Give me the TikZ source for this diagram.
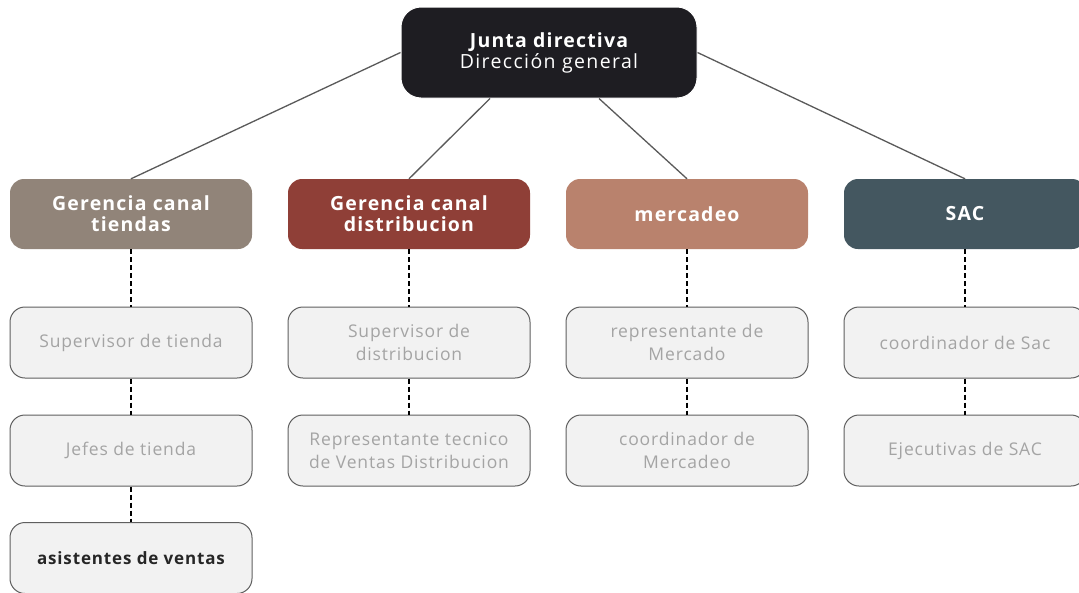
\documentclass[tikz,border=0pt]{standalone}
\usepackage{fontspec}
\setmainfont{Open Sans}
\newfontfamily\trackedfont[LetterSpace=5]{Open Sans}
\newfontfamily\titlefont[LetterSpace=6]{Open Sans}
\newfontfamily\subtitlefont[LetterSpace=7]{Open Sans}
\usetikzlibrary{calc}
\definecolor{topfill}{HTML}{1E1D22}
\definecolor{gA}{HTML}{918479}
\definecolor{gB}{HTML}{8F3F37}
\definecolor{gC}{HTML}{B9826D}
\definecolor{gD}{HTML}{445760}
\definecolor{lightfill}{HTML}{F2F2F2}
\definecolor{lightline}{HTML}{5F5F5F}
\definecolor{lighttext}{HTML}{A4A4A4}
\definecolor{conn}{HTML}{5A5A5A}
\tikzset{
  topbox/.style={draw=white, line width=1pt, fill=topfill, rounded corners=20pt, minimum width=296pt, minimum height=91pt, align=center, text=white, inner sep=0pt},
  mgrbox/.style={rounded corners=14pt, minimum width=242pt, minimum height=70pt, align=center, text=white, font=\titlefont\fontsize{19.5}{21}\selectfont\bfseries, inner sep=0pt},
  subbox/.style={draw=lightline, line width=1pt, fill=lightfill, rounded corners=15pt, minimum width=242pt, minimum height=71pt, align=center, text=lighttext, font=\trackedfont\fontsize{17.5}{23}\selectfont, inner sep=0pt},
  solidconn/.style={draw=conn, line width=1.3pt},
  dashconn/.style={draw=black, line width=1.6pt, dash pattern=on 5pt off 3pt},
}
\begin{document}
\begin{tikzpicture}[x=1pt,y=-1pt]
\useasboundingbox (0,0) rectangle (1079,592);
\clip (0,0) rectangle (1079,592);
\fill[white] (0,0) rectangle (1079,592);
% top
\node[topbox] (top) at (549,52.5) {{\titlefont\fontsize{19.5}{22}\selectfont\bfseries Junta directiva}\\[1pt]{\subtitlefont\fontsize{19.5}{22}\selectfont Dirección general}};
% level 2
\node[mgrbox, fill=gA] (g1) at (131,214) {Gerencia canal\\tiendas};
\node[mgrbox, fill=gB] (g2) at (409,214) {Gerencia canal\\distribucion};
\node[mgrbox, fill=gC] (g3) at (687,214) {mercadeo};
\node[mgrbox, fill=gD] (g4) at (965,214) {SAC};
% level 3
\node[subbox] (a1) at (131,342.5) {Supervisor de tienda};
\node[subbox] (b1) at (409,342.5) {Supervisor de\\distribucion};
\node[subbox] (c1) at (687,342.5) {representante de\\Mercado};
\node[subbox] (d1) at (965,342.5) {coordinador de Sac};
% level 4
\node[subbox] (a2) at (131,450.5) {Jefes de tienda};
\node[subbox] (b2) at (409,450.5) {Representante tecnico\\de Ventas Distribucion};
\node[subbox] (c2) at (687,450.5) {coordinador de\\Mercadeo};
\node[subbox] (d2) at (965,450.5) {Ejecutivas de SAC};
% level 5
\node[subbox, text=black!85, font=\trackedfont\fontsize{17}{22}\selectfont\bfseries] (a3) at (131,558) {asistentes de ventas};
% connectors from top
\coordinate (tl) at ($(top.south)+(-59,0)$);
\coordinate (tr) at ($(top.south)+(50,0)$);
\draw[solidconn] (top.west) -- (g1.north);
\draw[solidconn] (tl) -- (g2.north);
\draw[solidconn] (tr) -- (g3.north);
\draw[solidconn] (top.east) -- (g4.north);
% dashed
\draw[dashconn] (g1.south) -- (a1.north);
\draw[dashconn] (a1.south) -- (a2.north);
\draw[dashconn] (a2.south) -- (a3.north);
\draw[dashconn] (g2.south) -- (b1.north);
\draw[dashconn] (b1.south) -- (b2.north);
\draw[dashconn] (g3.south) -- (c1.north);
\draw[dashconn] (c1.south) -- (c2.north);
\draw[dashconn] (g4.south) -- (d1.north);
\draw[dashconn] (d1.south) -- (d2.north);
\end{tikzpicture}
\end{document}
